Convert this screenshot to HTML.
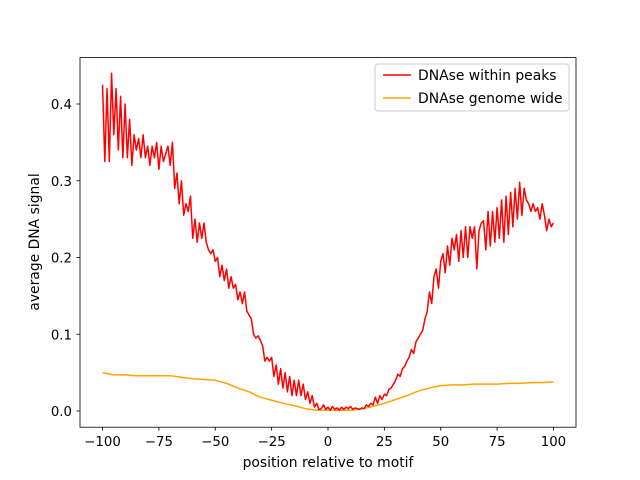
<!DOCTYPE html>
<html><head><meta charset="utf-8"><style>
body{margin:0;background:#fff}
svg{font-family:"DejaVu Sans","Liberation Sans",sans-serif;display:block}
</style></head><body>
<svg id="chart" width="640" height="480">
<rect x="0" y="0" width="640" height="480" fill="#fff"/>
<g id="series"></g>
<rect x="80" y="57.6" width="496" height="369.6" fill="none" stroke="#000" stroke-width="0.8"/>
<g id="ticks"></g>
<text x="328" y="467" font-size="13.9" text-anchor="middle">position relative to motif</text>
<text transform="translate(39,242) rotate(-90)" font-size="13.9" text-anchor="middle">average DNA signal</text>
<g>
<rect x="375" y="64" width="194" height="47" rx="3" fill="#fff" fill-opacity="0.8" stroke="#ccc" stroke-width="1"/>
<line x1="383" y1="75" x2="411" y2="75" stroke="red" stroke-width="1.5"/>
<text x="418" y="80" font-size="13.9">DNAse within peaks</text>
<line x1="383" y1="98" x2="411" y2="98" stroke="orange" stroke-width="1.5"/>
<text x="418" y="103" font-size="13.9">DNAse genome wide</text>
</g>
</svg>
<script>
const redValues=[0.425,0.325,0.42,0.325,0.44,0.36,0.42,0.34,0.41,0.33,
0.40,0.33,0.38,0.32,0.36,0.34,0.355,0.33,0.36,0.33,
0.345,0.32,0.345,0.33,0.35,0.315,0.345,0.325,0.335,0.345,
0.32,0.35,0.29,0.31,0.27,0.30,0.255,0.27,0.26,0.28,
0.225,0.25,0.22,0.245,0.225,0.245,0.22,0.21,0.205,0.21,
0.195,0.20,0.175,0.19,0.17,0.185,0.16,0.175,0.16,0.165,
0.145,0.155,0.14,0.155,0.13,0.125,0.12,0.10,0.095,0.098,
0.092,0.085,0.065,0.07,0.065,0.07,0.045,0.06,0.035,0.055,
0.03,0.05,0.025,0.045,0.02,0.04,0.02,0.04,0.02,0.035,
0.015,0.025,0.01,0.02,0.005,0.01,0.002,0.003,0.008,0.002,
0.005,0.001,0.006,0.002,0.004,0.001,0.005,0.002,0.005,0.003,
0.006,0.002,0.004,0.003,0.002,0.004,0.003,0.008,0.006,0.01,
0.008,0.018,0.01,0.02,0.015,0.022,0.02,0.028,0.03,0.035,
0.04,0.048,0.045,0.055,0.058,0.065,0.07,0.08,0.075,0.09,
0.095,0.1,0.105,0.12,0.13,0.155,0.14,0.175,0.185,0.16,
0.195,0.205,0.18,0.215,0.19,0.225,0.21,0.23,0.195,0.235,
0.20,0.24,0.20,0.24,0.225,0.24,0.185,0.235,0.245,0.248,
0.21,0.26,0.215,0.26,0.22,0.265,0.225,0.275,0.22,0.28,
0.23,0.285,0.24,0.29,0.25,0.298,0.255,0.29,0.275,0.27,
0.26,0.27,0.26,0.265,0.25,0.27,0.255,0.235,0.25,0.24,0.245];
const orangePositions=[-100,-95,-90,-85,-80,-75,-70,-65,-60,-55,-50,-45,-40,-35,-30,-25,-20,-15,-10,-5,0,5,10,15,20,25,30,35,40,45,50,55,60,65,70,75,80,85,90,95,100];
const orangeValues=[0.05,0.047,0.047,0.046,0.046,0.046,0.046,0.044,0.042,0.041,0.040,0.036,0.030,0.025,0.018,0.014,0.010,0.007,0.003,0.001,0.001,0.001,0.001,0.003,0.006,0.010,0.015,0.020,0.026,0.030,0.033,0.034,0.034,0.035,0.035,0.035,0.036,0.036,0.037,0.037,0.038];
const xTicks=[-100,-75,-50,-25,0,25,50,75,100];
const yTicks=[0.0,0.1,0.2,0.3,0.4];
const yTickLabels=["0.0","0.1","0.2","0.3","0.4"];

const NS="http://www.w3.org/2000/svg";
function xs(v){return 80+(v+110)/220*496;}
function ys(v){return 411-v*767.5;}
const series=document.getElementById('series');
function line(xv,yv,color,name){
  const p=document.createElementNS(NS,'polyline');
  p.setAttribute('points',xv.map((x,i)=>xs(x).toFixed(2)+','+ys(yv[i]).toFixed(2)).join(' '));
  p.setAttribute('fill','none');p.setAttribute('stroke',color);p.setAttribute('stroke-width','1.5');
  p.setAttribute('stroke-linejoin','round');
  
  
  series.appendChild(p);
}
const redPositions=redValues.map((_,i)=>i-100);
line(orangePositions,orangeValues,'orange','genome-wide-line');
line(redPositions,redValues,'red','within-peaks-line');
const ticks=document.getElementById('ticks');
xTicks.forEach(t=>{
  const l=document.createElementNS(NS,'line');
  l.setAttribute('x1',xs(t));l.setAttribute('x2',xs(t));l.setAttribute('y1',427.2);l.setAttribute('y2',430.7);
  l.setAttribute('stroke','#000');l.setAttribute('stroke-width','0.8');
  
  
  ticks.appendChild(l);
  const tx=document.createElementNS(NS,'text');
  tx.setAttribute('x',xs(t));tx.setAttribute('y',446);tx.setAttribute('font-size','13.3');tx.setAttribute('text-anchor','middle');
  tx.textContent=(t<0?'\u2212'+(-t):t);
  
  
  ticks.appendChild(tx);
});
yTicks.forEach((t,i)=>{
  const l=document.createElementNS(NS,'line');
  l.setAttribute('x1',76.5);l.setAttribute('x2',80);l.setAttribute('y1',ys(t));l.setAttribute('y2',ys(t));
  l.setAttribute('stroke','#000');l.setAttribute('stroke-width','0.8');
  
  
  ticks.appendChild(l);
  const tx=document.createElementNS(NS,'text');
  tx.setAttribute('x',72);tx.setAttribute('y',ys(t)+5);tx.setAttribute('font-size','13.3');tx.setAttribute('text-anchor','end');
  tx.textContent=yTickLabels[i];
  
  
  ticks.appendChild(tx);
});
</script>
</body></html>
